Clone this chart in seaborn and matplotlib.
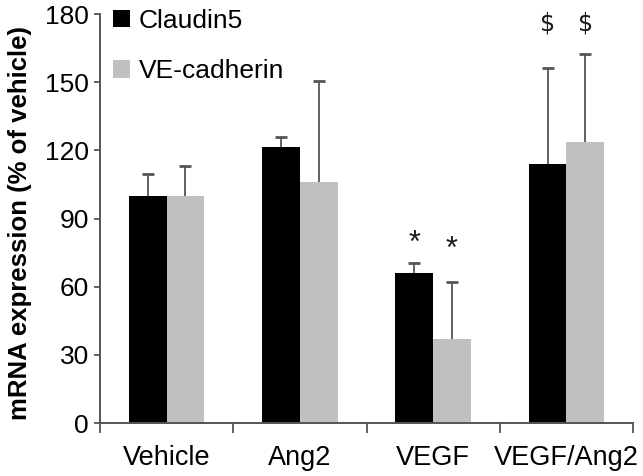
import pandas as pd
import numpy as np
import matplotlib
matplotlib.use("Agg")
import matplotlib.pyplot as plt
import seaborn as sns

sns.set_theme(style="white")
plt.rcParams['font.family'] = ['Liberation Sans', 'DejaVu Sans']
plt.rcParams['text.color'] = 'black'
plt.rcParams['axes.labelcolor'] = 'black'
plt.rcParams['xtick.labelcolor'] = 'black'
plt.rcParams['ytick.labelcolor'] = 'black'

# data
groups = ["Vehicle", "Ang2", "VEGF", "VEGF/Ang2"]
claudin5 = [100, 121.5, 66, 114]
claudin5_err = [9.5, 4.5, 4.3, 42.5]
vecad = [100, 106, 37, 123.5]
vecad_err = [13, 44.5, 25, 39]
# significance marks and their heights
claudin5_marks = ["", "", "*", "$"]
vecad_marks = ["", "", "*", "$"]
claudin5_mark_y = [0, 0, 79, 176]
vecad_mark_y = [0, 0, 76, 176]

df = pd.DataFrame({
    "group": groups * 2,
    "value": claudin5 + vecad,
    "err": claudin5_err + vecad_err,
    "mark": claudin5_marks + vecad_marks,
    "mark_y": claudin5_mark_y + vecad_mark_y,
    "gene": ["Claudin5"] * 4 + ["VE-cadherin"] * 4,
})

colors = {"Claudin5": "#000000", "VE-cadherin": "#c0c0c0"}
axcol = "#555555"

fig = plt.figure(figsize=(6.43, 4.76), dpi=100)
ax = fig.add_axes([0.1555, 0.1113, 0.829, 0.859])

sns.barplot(data=df, x="group", y="value", hue="gene", palette=colors,
            width=0.565, gap=0, saturation=1, errorbar=None, ax=ax,
            linewidth=0)

# one-sided (upper) error bars + significance marks
for gene, container in zip(["Claudin5", "VE-cadherin"], ax.containers):
    sub = df[df["gene"] == gene].reset_index(drop=True)
    for bar, (_, row) in zip(container, sub.iterrows()):
        xc = bar.get_x() + bar.get_width() / 2
        top = row["value"] + row["err"]
        ax.vlines(xc, row["value"], top, color=axcol, lw=1.3, zorder=3)
        ax.plot([xc], [top], marker="_", ms=9, mew=2, color=axcol, zorder=3)
        if row["mark"] == "*":
            ax.text(xc, row["mark_y"], "*", ha="center", va="center",
                    fontsize=22, color="#1a1a1a")
        elif row["mark"] == "$":
            ax.text(xc, row["mark_y"], "$", ha="center", va="center",
                    fontsize=17, color="#1a1a1a", family="DejaVu Sans")

ax.set_ylim(0, 180)
ax.set_xlim(-0.5, 3.5)
ax.set_yticks(np.arange(0, 181, 30))
ax.set_xlabel("")
ax.set_ylabel("mRNA expression (% of vehicle)", fontsize=18.5,
              fontweight="bold", labelpad=6)
ax.yaxis.set_label_coords(-0.128, 0.49)
ax.tick_params(axis="y", labelsize=19, length=4, width=1.3, color=axcol,
               left=True, pad=4)
ax.tick_params(axis="x", labelsize=19.5, length=0, pad=16)
ax.set_xticks([-0.5, 0.5, 1.5, 2.5, 3.5], minor=True)
ax.tick_params(axis="x", which="minor", length=7, width=1.3, color=axcol,
               bottom=True)

for s in ["top", "right"]:
    ax.spines[s].set_visible(False)
for s in ["left", "bottom"]:
    ax.spines[s].set_color(axcol)
    ax.spines[s].set_linewidth(1.4)

leg = ax.legend(loc="upper left", bbox_to_anchor=(0.0, 1.045), frameon=False,
                fontsize=19, handlelength=0.62, handleheight=0.62,
                handletextpad=0.35, labelspacing=1.0, borderaxespad=0.3,
                borderpad=0.2)

fig.savefig("out.png", dpi=100)
